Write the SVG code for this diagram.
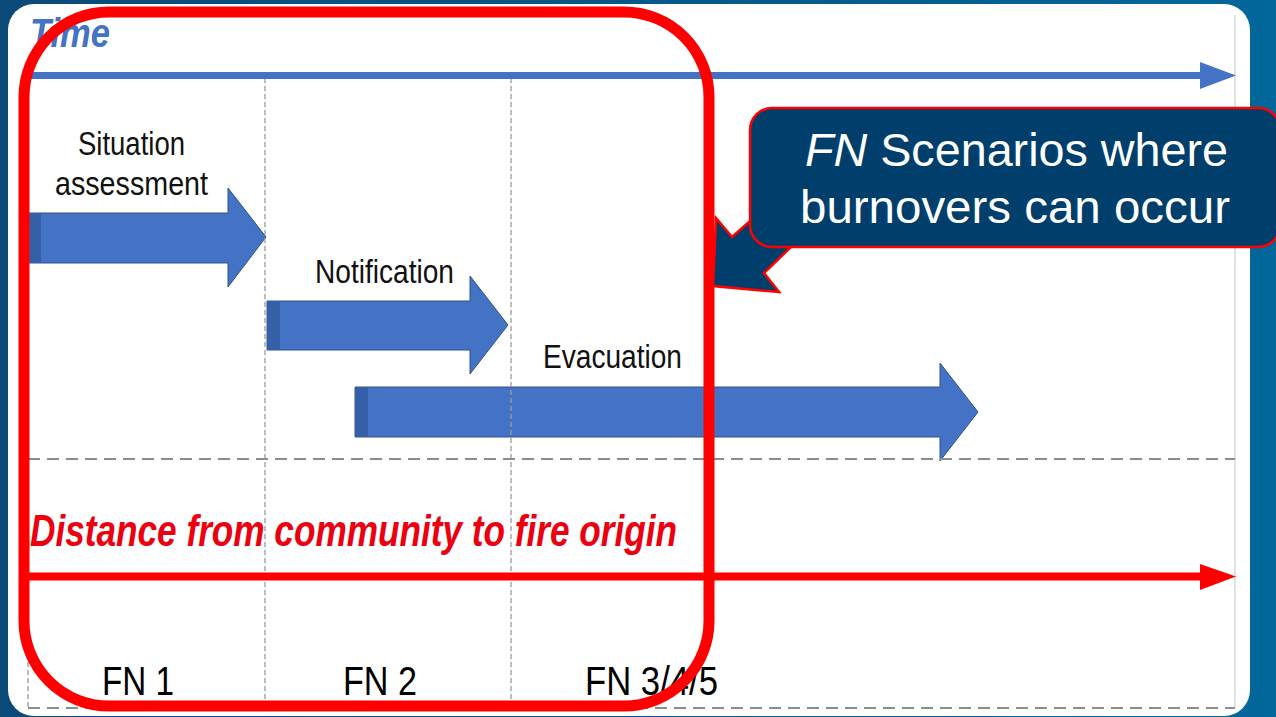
<svg xmlns="http://www.w3.org/2000/svg" width="1276" height="717" viewBox="0 0 1276 717">
  <defs>
    <linearGradient id="bg" x1="0" y1="0" x2="1" y2="0">
      <stop offset="0" stop-color="#0b4a78"/>
      <stop offset="1" stop-color="#02679a"/>
    </linearGradient>
    <style>
      .lbl { font-family: "Liberation Sans", Arial, sans-serif; fill: #111; }
      .blk { fill: #4472c4; stroke: #2f528f; stroke-width: 1; }
      .strip { fill: #3560a8; }
      .vdash { stroke: #9a9a9a; stroke-width: 1.3; stroke-dasharray: 5 3; fill: none; }
      .hdash { stroke: #8c8c8c; stroke-width: 2; stroke-dasharray: 12 7; fill: none; }
      .fn { font-family: "Liberation Sans", Arial, sans-serif; font-size: 41px; fill: #000; }
      .call { font-family: "Liberation Sans", Arial, sans-serif; font-size: 46px; fill: #ffffff; }
    </style>
  </defs>

  <rect x="0" y="0" width="1276" height="717" fill="url(#bg)"/>
  <rect id="panel" x="8" y="4" width="1242" height="712" rx="26" ry="26" fill="#ffffff"/>
  <line x1="1235" y1="15" x2="1235" y2="707" stroke="#cfcfcf" stroke-width="1.2"/>

  <g id="title-time">
    <text x="30" y="47" font-family="Liberation Sans, Arial, sans-serif" font-size="40" font-weight="bold" font-style="italic" fill="#4472c4" textLength="80" lengthAdjust="spacingAndGlyphs">Time</text>
  </g>

  <g id="situation-assessment">
    <polygon class="blk" points="28,213 228,213 228,188 266,237 228,287 228,263 28,263"/>
    <rect class="strip" x="28" y="213.5" width="13" height="49"/>
    <text class="lbl" x="78" y="155" font-size="34" textLength="107" lengthAdjust="spacingAndGlyphs">Situation</text>
    <text class="lbl" x="55" y="195" font-size="34" textLength="153" lengthAdjust="spacingAndGlyphs">assessment</text>
  </g>

  <g id="notification">
    <polygon class="blk" points="267,301 470,301 470,276 508,325 470,374 470,350 267,350"/>
    <rect class="strip" x="267" y="301.5" width="13" height="48"/>
    <text class="lbl" x="315" y="283" font-size="33" textLength="139" lengthAdjust="spacingAndGlyphs">Notification</text>
  </g>

  <g id="evacuation">
    <polygon class="blk" points="355,387 940,387 940,363 978,412 940,461 940,437 355,437"/>
    <rect class="strip" x="355" y="387.5" width="13" height="49"/>
    <text class="lbl" x="543" y="368" font-size="33" textLength="139" lengthAdjust="spacingAndGlyphs">Evacuation</text>
  </g>

  <g id="grid">
    <line class="vdash" x1="28" y1="78" x2="28" y2="707"/>
    <line class="vdash" x1="265" y1="78" x2="265" y2="707"/>
    <line class="vdash" x1="511" y1="78" x2="511" y2="707"/>
    <line class="hdash" x1="28" y1="459" x2="1235" y2="459"/>
    <line class="hdash" x1="28" y1="708" x2="1235" y2="708"/>
  </g>

  <g id="connectors">
    <line x1="28" y1="75.5" x2="1204" y2="75.5" stroke="#4472c4" stroke-width="7"/>
    <polygon points="1200,62 1236,75.5 1200,89" fill="#4472c4"/>
    <line x1="28" y1="576.5" x2="1204" y2="576.5" stroke="#ff0000" stroke-width="8"/>
    <polygon points="1200,564 1236,576.5 1200,590" fill="#ff0000"/>
  </g>

  <g id="distance-title">
    <text x="30" y="546" font-family="Liberation Sans, Arial, sans-serif" font-size="44" font-weight="bold" font-style="italic" fill="#ec0010" textLength="647" lengthAdjust="spacingAndGlyphs">Distance from community to fire origin</text>
  </g>

  <g id="fn-labels">
    <text class="fn" x="102" y="695" textLength="72" lengthAdjust="spacingAndGlyphs">FN 1</text>
    <text class="fn" x="343" y="695" textLength="74" lengthAdjust="spacingAndGlyphs">FN 2</text>
    <text class="fn" x="585" y="695" textLength="133" lengthAdjust="spacingAndGlyphs">FN 3/4/5</text>
  </g>

  <g id="highlight">
    <rect x="24" y="12" width="685" height="694" rx="85" ry="85" fill="none" stroke="#ff0000" stroke-width="11"/>
  </g>

  <g id="callout">
    <polygon points="749,222 732,237 716,218 713,286 779,292 764,273 790,248" fill="#003f6b" stroke="#ff0000" stroke-width="2.5" stroke-linejoin="miter"/>
    <rect x="750" y="108" width="530" height="139" rx="22" ry="22" fill="#003f6b" stroke="#ff0000" stroke-width="2.5"/>
    <text class="call" x="805" y="166" textLength="423" lengthAdjust="spacingAndGlyphs"><tspan font-style="italic">FN</tspan> Scenarios where</text>
    <text class="call" x="800" y="223" textLength="430" lengthAdjust="spacingAndGlyphs">burnovers can occur</text>
  </g>
</svg>
